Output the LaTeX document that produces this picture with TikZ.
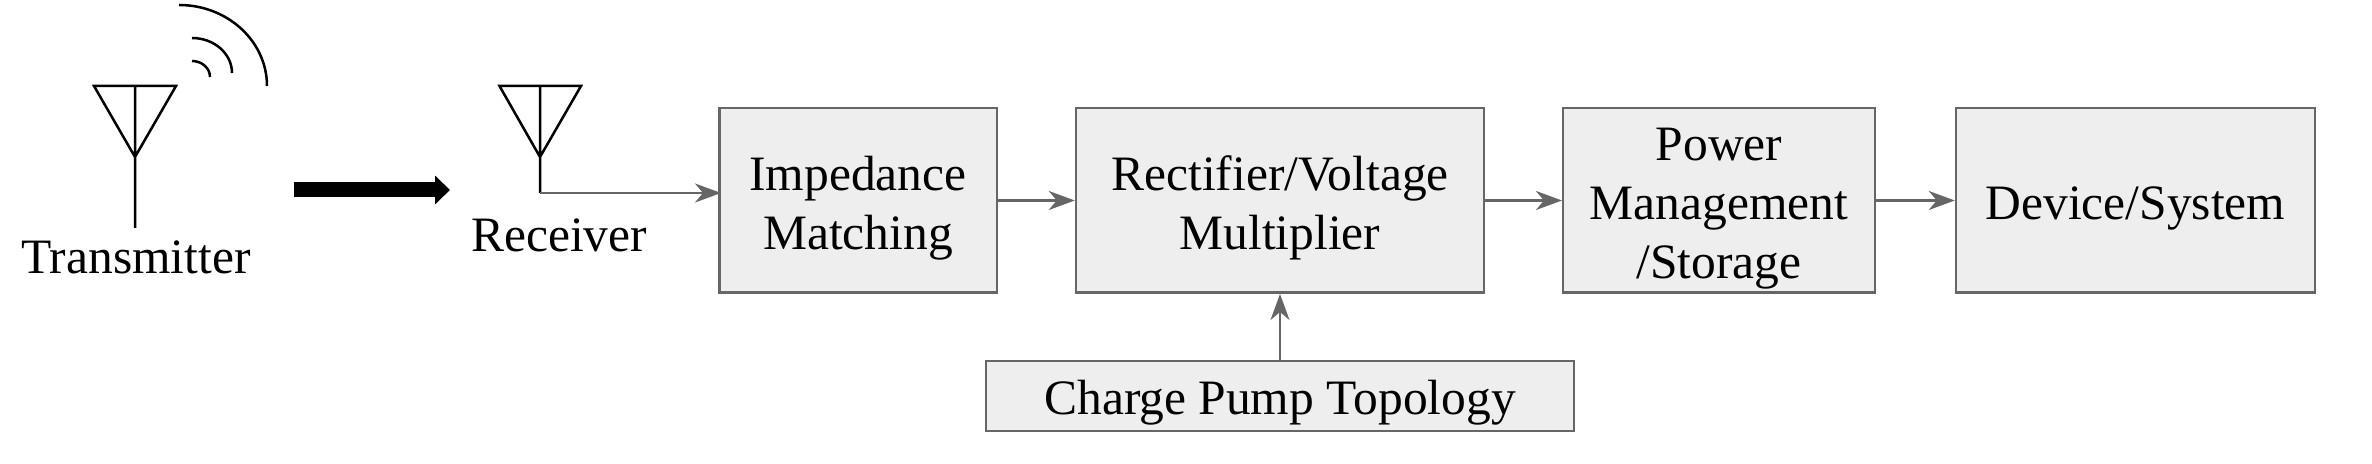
\documentclass[tikz,border=0pt]{standalone}
\usepackage{fontspec}
\setmainfont{Liberation Serif}
\usetikzlibrary{arrows.meta,positioning}
\definecolor{blockgray}{HTML}{EEEEEE}
\definecolor{linegray}{HTML}{666666}
\tikzset{font=\fontsize{24.75}{29.5}\selectfont}
\tikzstyle{block}=[rectangle,draw=linegray,fill=blockgray,line width=1.25pt,inner sep=0pt,minimum height=92.25pt]
\tikzstyle{aerial}=[line width=1.25pt,black,line join=miter]
\newcommand{\blocktext}[2]{\raisebox{#1}[0pt][0pt]{\begin{tabular}[t]{@{}c@{}}#2\end{tabular}}}
\begin{document}
\begin{tikzpicture}[x=0.5pt,y=0.5pt]
\useasboundingbox (0,0) rectangle (2372,464);
\node[block,minimum width=138.75pt] (I) at (858,263.5) {\blocktext{5pt}{Impedance\\Matching}};
\node[block,minimum width=204pt] (R) at (1280,263.5) {\blocktext{5pt}{Rectifier/Voltage\\Multiplier}};
\node[block,minimum width=155.8pt] (P) at (1719,263.5) {\blocktext{20pt}{Power\\Management\\/Storage}};
\node[block,minimum width=179.5pt] (D) at (2135.5,263.5) {\blocktext{-9.5pt}{Device/System}};
\node[block,minimum width=294pt,minimum height=35pt] (C) at (1280,68) {\blocktext{-9.25pt}{Charge Pump Topology}};
\node[anchor=base] (T) at (136,190.5) {Transmitter};
\node[anchor=base] (V) at (559,212) {Receiver};
% antennas
\coordinate (TL) at (94,378);
\coordinate (TR) at (176,378);
\coordinate (TM) at (135,378);
\coordinate (TA) at (135,307);
\coordinate (TE) at (135,236);
\coordinate (VL) at (499.5,378);
\coordinate (VR) at (581,378);
\coordinate (VM) at (540,378);
\coordinate (VA) at (540,307);
\coordinate (VE) at (540,271);
\coordinate (IE) at (721,271);
\draw[aerial] (TL) -- (TR) -- (TA) -- cycle (TM) -- (TE);
\draw[aerial] (VL) -- (VR) -- (VA) -- cycle (VM) -- (VE);
% waves
\draw[aerial] (179,459) arc[start angle=90,end angle=0,x radius=88,y radius=81];
\draw[aerial] (192,426) arc[start angle=90,end angle=0,x radius=40,y radius=35];
\draw[aerial] (192,403) arc[start angle=90,end angle=0,x radius=18,y radius=16];
% big arrow
\coordinate (AS) at (294,274);
\coordinate (AE) at (450,274);
\draw[line width=7.5pt,-{Triangle[length=7.5pt,width=14pt]}] (AS) -- (AE);
\path[->,color=linegray,line width=1.25pt,>={Stealth[length=13pt,width=9.5pt,inset=4pt]}]
(VE) edge (IE)
(I) edge (R)
(R) edge (P)
(P) edge (D)
(C) edge (R);
\end{tikzpicture}
\end{document}
